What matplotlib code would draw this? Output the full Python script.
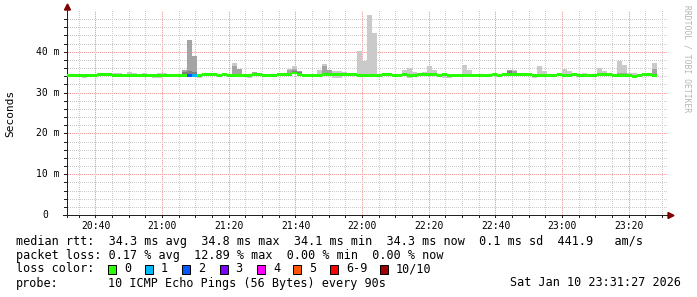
import matplotlib
matplotlib.use("Agg")
import matplotlib.pyplot as plt
from matplotlib.patches import Polygon, Rectangle
from matplotlib.colors import to_rgb
import numpy as np

n = float("nan")

# ---------------- data ----------------
step_minutes = 1.5
first_step = "20:31:30"
window_start = "20:31:27"
window_end = "23:31:27"

median_ms = [
    34.2, 34.2, 34.2, 34.2, 34.2, 34.2, 34.45, 34.45, 34.45, 34.2,
    34.2, 34.2, 34.2, 34.2, 34.2, 34.2, 34.2, 34.2, 34.2, 34.2,
    34.2, 34.2, 34.2, 34.2, 34.2, 34.2, 34.2, 34.45, 34.45, 34.45,
    34.2, 34.45, 34.2, 34.2, 34.2, 34.2, 34.2, 34.45, 34.45, 34.2,
    34.2, 34.2, 34.45, 34.45, 34.45, 34.8, 34.45, 34.2, 34.2, 34.2,
    34.2, 34.45, 34.45, 34.45, 34.45, 34.45, 34.45, 34.45, 34.2, 34.2,
    34.2, 34.2, 34.2, 34.45, 34.45, 34.2, 34.2, 34.45, 34.2, 34.2,
    34.45, 34.45, 34.45, 34.45, 34.2, 34.45, 34.2, 34.2, 34.2, 34.2,
    34.2, 34.2, 34.2, 34.2, 34.2, 34.45, 34.2, 34.45, 34.45, 34.45,
    34.45, 34.45, 34.45, 34.2, 34.2, 34.2, 34.2, 34.2, 34.45, 34.2,
    34.2, 34.45, 34.2, 34.2, 34.2, 34.2, 34.45, 34.45, 34.45, 34.2,
    34.2, 34.2, 34.2, 34.0, 34.2, 34.45, 34.45, 34.2,
]

loss_count = [
    0, 0, 0, 0, 0, 0, 0, 0, 0, 0,
    0, 0, 0, 0, 0, 0, 0, 0, 0, 0,
    0, 0, 0, 0, 2, 1, 0, 0, 0, 0,
    0, 0, 0, 0, 0, 0, 0, 0, 0, 0,
    0, 0, 0, 0, 0, 0, 0, 0, 0, 0,
    0, 0, 0, 0, 0, 0, 0, 0, 0, 0,
    0, 0, 0, 0, 0, 0, 0, 0, 0, 0,
    0, 0, 0, 0, 0, 0, 0, 0, 0, 0,
    0, 0, 0, 0, 0, 0, 0, 0, 0, 0,
    0, 0, 0, 0, 0, 0, 0, 0, 0, 0,
    0, 0, 0, 0, 0, 0, 0, 0, 0, 0,
    0, 0, 0, 0, 0, 0, 0, 0,
]

# highest ping of each step (outer smoke)
ping_max_ms = [
    n, n, n, n, n, n, n, n, 34.9, 34.7,
    34.7, n, 35.1, 34.9, n, 34.9, 34.6, n, 34.9, 34.9,
    34.6, n, n, 35.6, 43.0, 38.9, n, n, n, n,
    n, n, n, 37.3, 35.8, n, n, 35.1, n, 34.6,
    n, n, n, 34.9, 35.9, 36.6, 35.4, n, n, n,
    35.6, 37.1, 35.6, 35.2, 35.4, 35.1, n, n, 40.3, 37.7,
    49.1, 44.6, n, n, n, n, 34.6, 35.6, 36.1, 35.1,
    34.9, 35.1, 36.6, 35.6, n, 34.9, 34.6, n, n, 36.8,
    35.6, n, n, n, n, n, n, n, 35.6, 35.6,
    34.9, n, n, n, 36.4, 35.4, 34.6, 34.6, n, 35.9,
    35.4, n, n, 34.9, 34.6, n, 36.1, 35.4, n, n,
    37.8, 36.8, 34.9, 34.9, n, n, n, 37.3,
]

# 9th ping (second smoke layer)
ping_p9_ms = [
    n, n, n, n, n, n, n, n, n, n,
    n, n, n, n, n, n, n, n, n, n,
    n, n, n, 35.6, 43.0, 38.9, n, n, n, n,
    n, n, n, 36.4, 35.8, n, n, 35.1, n, n,
    n, n, n, n, 35.6, 35.9, 35.4, n, n, n,
    n, 36.4, 35.6, n, n, n, n, n, n, n,
    n, n, n, n, n, n, n, n, n, n,
    n, n, n, n, n, n, n, n, n, n,
    n, n, n, n, n, n, n, n, 35.6, 35.3,
    n, n, n, n, n, n, n, n, n, n,
    n, n, n, n, n, n, n, n, n, n,
    34.8, 34.9, n, n, n, n, n, 35.9,
]

# 8th ping (third smoke layer)
ping_p8_ms = [
    n, n, n, n, n, n, n, n, n, n,
    n, n, n, n, n, n, n, n, n, n,
    n, n, n, 35.0, 35.3, 35.0, n, n, n, n,
    n, n, n, n, n, n, n, n, n, n,
    n, n, n, n, n, 35.4, 35.0, n, n, n,
    n, n, n, n, n, n, n, n, n, n,
    n, n, n, n, n, n, n, n, n, n,
    n, n, n, n, n, n, n, n, n, n,
    n, n, n, n, n, n, n, n, 35.3, n,
    n, n, n, n, n, n, n, n, n, n,
    n, n, n, n, n, n, n, n, n, n,
    n, n, n, n, n, n, n, n,
]

# lowest ping of each step
ping_min_ms = [
    n, n, n, 33.7, n, n, n, n, n, n,
    n, n, n, n, n, n, n, 33.7, 33.7, n,
    n, n, n, n, n, n, 33.7, n, n, n,
    n, n, n, n, n, n, 33.7, n, n, n,
    n, n, n, n, n, n, n, n, n, n,
    n, n, n, 33.7, 33.7, n, n, n, 33.9, n,
    n, n, n, n, n, n, n, n, 33.7, n,
    n, n, n, n, n, 33.7, 33.7, n, n, n,
    n, n, n, n, n, n, n, n, n, n,
    n, n, n, 33.7, n, n, n, n, n, n,
    n, n, n, n, n, n, n, n, n, n,
    n, n, n, n, n, n, n, n,
]

x_tick_labels = ["20:40", "21:00", "21:20", "21:40", "22:00", "22:20", "22:40", "23:00", "23:20"]
y_tick_values = [0, 10, 20, 30, 40]
y_tick_labels = ["0", "10 m", "20 m", "30 m", "40 m"]
y_max = 50

loss_labels = ["0", "1", "2", "3", "4", "5", "6-9", "10/10"]
loss_colors = ["#26ff00", "#00b8ff", "#0059ff", "#7e00ff", "#ff00ff", "#ff5500", "#ff0000", "#a10000"]
smoke_colors = ["#cacaca", "#a4a4a4", "#7e7e7e"]

legend_rtt = "median rtt:  34.3 ms avg  34.8 ms max  34.1 ms min  34.3 ms now  0.1 ms sd  441.9   am/s"
legend_loss = "packet loss: 0.17 % avg  12.89 % max  0.00 % min  0.00 % now"
probe_text = "10 ICMP Echo Pings (56 Bytes) every 90s"
stamp_text = "Sat Jan 10 23:31:27 2026"
y_label = "Seconds"
watermark = "RRDTOOL / TOBI OETIKER"

# ---------------- helpers ----------------
W, H, DPI = 697, 297, 100
MONO = "DejaVu Sans Mono"


def to_min(s):
    p = [int(v) for v in s.split(":")]
    return p[0] * 60 + p[1] + (p[2] / 60 if len(p) > 2 else 0)


def fx(px):
    return px / W


def fy(py):
    return 1 - py / H


t0 = to_min(window_start)
t1 = to_min(window_end)
first = to_min(first_step)

med = np.array(median_ms)
nsteps = len(med)
xs = first + step_minutes * np.arange(nsteps)

pmax = np.array(ping_max_ms)
pmin = np.array(ping_min_ms)
p9 = np.array(ping_p9_ms)
p8 = np.array(ping_p8_ms)

fig = plt.figure(figsize=(W / DPI, H / DPI), dpi=DPI)
fig.patch.set_facecolor("white")

L, R, T, B = 67, 667, 11, 215
ax = fig.add_axes([fx(L), fy(B), (R - L) / W, (B - T) / H])
ax.set_xlim(t0, t1)
ax.set_ylim(0, y_max)
ax.patch.set_visible(False)
ax.set_zorder(2)
for s in ax.spines.values():
    s.set_visible(False)

# ---- grid and tick marks as crisp pixels (rrdtool style), under data ----
grid_c = np.array(to_rgb("#cacaca"))
mgrid_dark = np.array(to_rgb("#f4a6a6"))
mgrid_light = np.array(to_rgb("#fde0e0"))
axis_c = np.array(to_rgb("#212121"))
img = np.zeros((H, W, 4))


def px_col(t):
    return int(round(L + (t - t0) * (R - L) / (t1 - t0)))


def px_row(v):
    return int(round(B - v * (B - T) / y_max))


gx = np.arange(np.ceil(t0 / 5) * 5, t1, 5)
for g in gx:
    c = px_col(g)
    major = int(round(g)) % 20 == 0
    for r in range(T, B):
        if major:
            img[r, c, :3] = mgrid_dark if r % 2 == 0 else mgrid_light
            img[r, c, 3] = 1
        elif r % 2 == 1:
            img[r, c, :3] = grid_c
            img[r, c, 3] = 1
    img[B + 1:B + 3, c, :3] = axis_c
    img[B + 1:B + 3, c, 3] = 1
for g in np.arange(2, y_max, 2):
    r = px_row(g)
    major = int(round(g)) % 10 == 0
    for c in range(L + 1, R):
        if major:
            img[r, c, :3] = mgrid_dark if c % 2 == 0 else mgrid_light
            img[r, c, 3] = 1
        elif c % 2 == 0:
            img[r, c, :3] = grid_c
            img[r, c, 3] = 1
for g in np.arange(0, y_max, 2):
    r = px_row(g)
    img[r, L - 3:L, :3] = axis_c
    img[r, L - 3:L, 3] = 1
# axis lines
img[B, L - 4:R + 2, :3] = axis_c
img[B, L - 4:R + 2, 3] = 1
img[T - 2:B + 3, L, :3] = axis_c
img[T - 2:B + 3, L, 3] = 1
fig.figimage(img, xo=0, yo=0, origin="upper", zorder=1)

# smoke layers
hi1 = np.where(np.isnan(pmax), med, pmax)
lo1 = np.where(np.isnan(pmin), med, pmin)
ax.bar(xs, hi1 - lo1, bottom=lo1, width=step_minutes, align="edge",
       color=smoke_colors[0], linewidth=0, antialiased=False, zorder=2)
hi2 = np.where(np.isnan(p9), med, p9)
ax.bar(xs, hi2 - med, bottom=med, width=step_minutes, align="edge",
       color=smoke_colors[1], linewidth=0, antialiased=False, zorder=3)
hi3 = np.where(np.isnan(p8), med, p8)
ax.bar(xs, hi3 - med, bottom=med, width=step_minutes, align="edge",
       color=smoke_colors[2], linewidth=0, antialiased=False, zorder=4)


def loss_idx(c):
    if c <= 5:
        return c
    if c < 10:
        return 6
    return 7


band = 0.3
cols = [loss_colors[loss_idx(c)] for c in loss_count]
ax.bar(xs, 2 * band, bottom=med - band, width=step_minutes, align="edge",
       color=cols, linewidth=0, antialiased=False, zorder=5)

# tick labels
major_x = [to_min(s) for s in x_tick_labels]
ax.set_xticks(major_x)
ax.set_xticklabels(x_tick_labels, fontfamily=MONO, fontsize=7)
ax.set_yticks(y_tick_values)
ax.set_yticklabels([])
ax.tick_params(axis="both", which="both", length=0)
ax.tick_params(axis="x", which="major", pad=4)

for v, lab in zip(y_tick_values, y_tick_labels):
    extra = 12 if v == 0 else 0
    ax.annotate(lab, xy=(0, v), xycoords=("axes fraction", "data"),
                xytext=(-7 - extra, 0), textcoords="offset pixels",
                ha="right", va="center", fontfamily=MONO, fontsize=7)

# arrows
arr = "#800000"
fig.add_artist(Polygon([[fx(L - 2.5), fy(T - 1)], [fx(L + 3.5), fy(T - 1)], [fx(L + 0.5), fy(T - 7)]],
                       closed=True, color=arr, transform=fig.transFigure, zorder=3))
fig.add_artist(Polygon([[fx(R + 1), fy(B - 2.5)], [fx(R + 1), fy(B + 3.5)], [fx(R + 7), fy(B + 0.5)]],
                       closed=True, color=arr, transform=fig.transFigure, zorder=3))

# y label and watermark
fig.text(fx(10), fy(113), y_label, rotation=90, ha="center", va="center",
         fontfamily=MONO, fontsize=8)
fig.text(fx(687), fy(5), watermark, rotation=270, ha="center", va="top",
         fontfamily=MONO, fontsize=5.8, color="#b4b4b4")

# legend
FS = 8.5
x0 = 16
fig.text(fx(x0), fy(241), legend_rtt, ha="left", va="center", fontfamily=MONO, fontsize=FS)
fig.text(fx(x0), fy(256), legend_loss, ha="left", va="center", fontfamily=MONO, fontsize=FS)
fig.text(fx(x0), fy(269), "loss color:", ha="left", va="center", fontfamily=MONO, fontsize=FS)
box_x = [108, 144.5, 182, 219.5, 257, 293, 330, 380]
for bx, lab, c in zip(box_x, loss_labels, loss_colors):
    fig.add_artist(Rectangle((fx(bx), fy(273.5)), 8.4 / W, 9 / H, facecolor=c,
                             edgecolor="black", lw=0.72, transform=fig.transFigure))
    fig.text(fx(bx + 16), fy(269), lab, ha="left", va="center", fontfamily=MONO, fontsize=FS)
fig.text(fx(x0), fy(283), "probe:", ha="left", va="center", fontfamily=MONO, fontsize=FS)
fig.text(fx(108), fy(283), probe_text, ha="left", va="center", fontfamily=MONO, fontsize=FS)
fig.text(fx(681), fy(283), stamp_text, ha="right", va="center", fontfamily=MONO, fontsize=FS)

fig.savefig("out.png", dpi=DPI, facecolor="white")
